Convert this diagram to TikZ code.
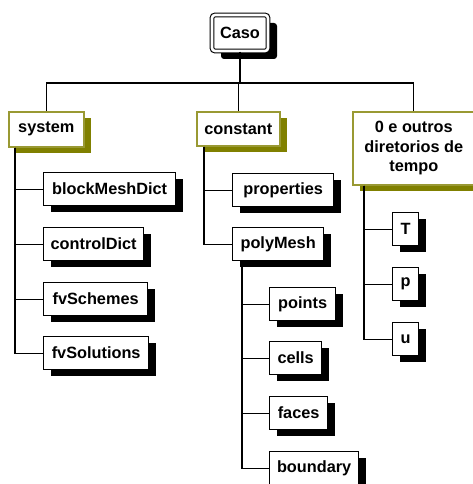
\documentclass[tikz,border=0pt]{standalone}
\usepackage{fontspec}
\setmainfont{Liberation Sans}
\usetikzlibrary{shadows}
\definecolor{oliveborder}{RGB}{153,153,51}
\definecolor{oliveshadow}{RGB}{128,128,0}
\begin{document}
\begin{tikzpicture}[x=1pt,y=-1pt,
  box/.style={anchor=north west, inner sep=0pt, font=\fontsize{16.3}{19.5}\selectfont\bfseries, fill=white, line width=1.3pt},
  leaf/.style={box, draw=black, minimum height=33pt, general shadow={fill=black, shadow xshift=7pt, shadow yshift=-6pt}},
  folder/.style={box, draw=oliveborder, line width=1.6pt, general shadow={fill=oliveshadow, shadow xshift=7pt, shadow yshift=-6pt}},
  root/.style={font=\fontsize{16.3}{19.5}\selectfont\bfseries, inner sep=0pt, fill=white, draw=black, double=white, double distance=2.6pt, line width=1.1pt, rounded corners=3pt, general shadow={fill=black, shadow xshift=9pt, shadow yshift=-8pt}},
  link/.style={line width=1.3pt, draw=black}
]
\useasboundingbox (0,0) rectangle (472,484);
% root
\node[root, minimum width=56pt, minimum height=36pt] (caso) at (240,33) {Caso};
% second level
\node[folder, minimum width=75pt, minimum height=35pt] (system) at (8,111) {system};
\node[folder, minimum width=83pt, minimum height=34pt] (constant) at (196,111) {constant};
\node[folder, minimum width=122pt, minimum height=73pt, align=center] (outros) at (352,111) {0 e outros\\diretorios de\\tempo};
% system children
\node[leaf, minimum width=132pt] (bmd) at (43,172) {blockMeshDict};
\node[leaf, minimum width=100pt] (cdict) at (43,227) {controlDict};
\node[leaf, minimum width=104pt] (fvsch) at (43,282) {fvSchemes};
\node[leaf, minimum width=105pt] (fvsol) at (43,336) {fvSolutions};
% constant children
\node[leaf, minimum width=101pt] (props) at (232,173) {properties};
\node[leaf, minimum width=91pt] (poly) at (232,227) {polyMesh};
% polyMesh children
\node[leaf, minimum width=66pt] (points) at (269,287) {points};
\node[leaf, minimum width=52pt] (cells) at (269,341) {cells};
\node[leaf, minimum width=58pt] (faces) at (269,396) {faces};
\node[leaf, minimum width=89pt] (bnd) at (269,451) {boundary};
% time children
\node[leaf, minimum width=26pt] (T) at (392,212) {T};
\node[leaf, minimum width=26pt] (p) at (392,267) {p};
\node[leaf, minimum width=26pt] (u) at (392,322) {u};
% connectors
\coordinate (bus) at (241,83);
\draw[link] (caso.south) -- (caso.south |- bus);
\draw[link] (system.north) |- (bus) -| (outros.north);
\draw[link] (constant.north) -- (constant.north |- bus);
\foreach \c in {bmd,cdict,fvsch,fvsol}
  \draw[link] ([xshift=7pt]system.south west) |- (\c.west);
\foreach \c in {props,poly}
  \draw[link] ([xshift=8pt]constant.south west) |- (\c.west);
\foreach \c in {points,cells,faces,bnd}
  \draw[link] ([xshift=10pt]poly.south west) |- (\c.west);
\foreach \c in {T,p,u}
  \draw[link] ([xshift=12pt]outros.south west) |- (\c.west);
\end{tikzpicture}
\end{document}
